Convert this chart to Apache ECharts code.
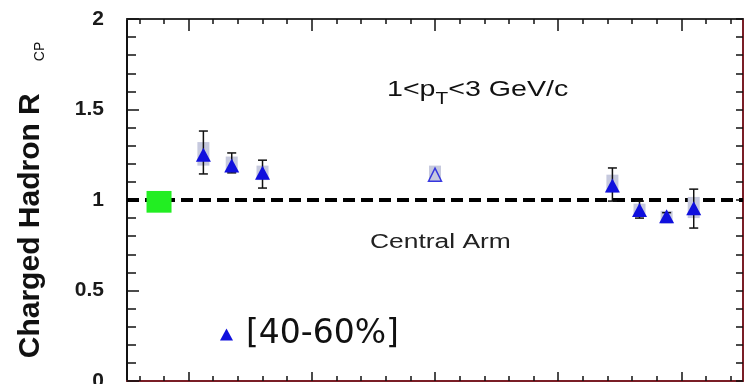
<!DOCTYPE html>
<html>
<head>
<meta charset="utf-8">
<script src="https://cdn.jsdelivr.net/npm/echarts@6/dist/echarts.min.js"></script>
<style>
  html, body { margin: 0; padding: 0; background: #fff; }
  #chart { width: 746px; height: 384px; }
</style>
</head>
<body>
<div id="chart"></div>
<script>
  // forward / backward points (filled triangles)
  var eta = [-1.88, -1.65, -1.40, 1.44, 1.66, 1.88, 2.10];
  var rcp = [1.25, 1.19, 1.15, 1.08, 0.945, 0.91, 0.955];
  var statLo = [1.144, 1.15, 1.066, 0.994, 0.90, 0.89, 0.845];
  var statHi = [1.381, 1.26, 1.22, 1.177, 0.994, 0.93, 1.06];
  var sysLo = [1.19, 1.155, 1.11, 1.04, 0.915, 0.87, 0.90];
  var sysHi = [1.32, 1.24, 1.19, 1.14, 0.98, 0.94, 1.017];

  // central arm point (open triangle)
  var centralEta = [0];
  var centralRcp = [1.14];
  var centralSysLo = [1.10];
  var centralSysHi = [1.19];

  // normalisation box
  var normEta = [-2.24];
  var normLo = [0.93];
  var normHi = [1.05];

  var refLine = [[-2.5, 1], [2.5, 1]];

  var yTicks = [0, 0.5, 1, 1.5, 2];
  var xMajorTicks = [-2, -1, 0, 1, 2];
  var xMinorTicks = [-2.4, -2.2, -1.8, -1.6, -1.4, -1.2, -0.8, -0.6, -0.4, -0.2,
    0.2, 0.4, 0.6, 0.8, 1.2, 1.4, 1.6, 1.8, 2.2, 2.4];

  var legendName = '[40-60%]';
  var blue = '#1010dd';

  var chart = echarts.init(document.getElementById('chart'));

  function zip3(a, b, c) {
    return a.map(function (v, i) { return [v, b[i], c[i]]; });
  }

  function boxRenderer(width, color) {
    return function (params, api) {
      var top = api.coord([api.value(0), api.value(2)]);
      var bot = api.coord([api.value(0), api.value(1)]);
      return {
        type: 'rect',
        shape: { x: top[0] - width / 2, y: top[1], width: width, height: bot[1] - top[1] },
        style: { fill: color }
      };
    };
  }

  function errRenderer(params, api) {
    var lo = api.coord([api.value(0), api.value(1)]);
    var hi = api.coord([api.value(0), api.value(2)]);
    var cap = 4.5;
    var st = { stroke: '#111', lineWidth: 1.5 };
    return {
      type: 'group',
      children: [
        { type: 'line', shape: { x1: lo[0], y1: lo[1], x2: hi[0], y2: hi[1] }, style: st },
        { type: 'line', shape: { x1: lo[0] - cap, y1: lo[1], x2: lo[0] + cap, y2: lo[1] }, style: st },
        { type: 'line', shape: { x1: hi[0] - cap, y1: hi[1], x2: hi[0] + cap, y2: hi[1] }, style: st }
      ]
    };
  }

  function xAxisDef(pos, ticks, len, lineColor, showLine) {
    return {
      type: 'value', position: pos, min: -2.5, max: 2.5,
      axisLine: { show: showLine, onZero: false, lineStyle: { color: lineColor, width: 2 } },
      axisTick: { show: true, inside: true, length: len, customValues: ticks,
        lineStyle: { color: '#111', width: 1.5 } },
      axisLabel: { show: false },
      splitLine: { show: false }
    };
  }

  var option = {
    backgroundColor: '#fff',
    animation: false,
    grid: { left: 127, right: 3, top: 19, bottom: 3, outerBoundsMode: 'none', containLabel: false },
    legend: {
      data: [legendName],
      icon: 'triangle',
      left: 215, top: 313,
      itemWidth: 13, itemHeight: 12,
      textStyle: { fontFamily: 'DejaVu Sans', fontSize: 33, color: '#111', padding: [0, 0, 0, 8] }
    },
    xAxis: [
      xAxisDef('bottom', xMajorTicks, 9, '#7a1e26', true),
      xAxisDef('bottom', xMinorTicks, 5, '#7a1e26', false),
      xAxisDef('top', xMajorTicks, 12, '#333', true),
      xAxisDef('top', xMinorTicks, 5, '#333', false)
    ],
    yAxis: [
      {
        type: 'value', position: 'left', min: yTicks[0], max: yTicks[yTicks.length - 1], interval: 0.5,
        name: '{b|Charged Hadron R}{s|CP}',
        nameLocation: 'middle', nameRotate: 90, nameGap: 80,
        nameTextStyle: {
          padding: [0, 0, 0, 0],
          rich: {
            b: { fontFamily: 'Liberation Sans', fontWeight: 'bold', fontSize: 30, color: '#111' },
            s: { fontFamily: 'Liberation Sans', fontSize: 14, color: '#111', padding: [18, 0, 0, 32] }
          }
        },
        axisLine: { onZero: false, lineStyle: { color: '#111', width: 2 } },
        axisTick: { inside: true, length: 12, lineStyle: { color: '#111', width: 1.5 } },
        minorTick: { show: true, splitNumber: 5, length: 9, lineStyle: { color: '#111', width: 1.5 } },
        axisLabel: {
          margin: 23, color: '#1a1a1a', fontFamily: 'Liberation Sans', fontWeight: 'bold', fontSize: 21,
          formatter: function (v) { return String(v); }
        },
        splitLine: { show: false }
      },
      {
        type: 'value', position: 'right', min: 0, max: 2, interval: 0.5,
        axisLine: { show: true, onZero: false, lineStyle: { color: '#7a1e26', width: 2 } },
        axisTick: { inside: true, length: 7, lineStyle: { color: '#111', width: 1.5 } },
        minorTick: { show: true, splitNumber: 5, length: 7, lineStyle: { color: '#111', width: 1.5 } },
        axisLabel: { show: false },
        splitLine: { show: false }
      }
    ],
    graphic: [
      {
        type: 'text', x: 387, y: 90, scaleX: 1.3,
        style: {
          text: '{n|1<p}{t|T}{n|<3 GeV/c}',
          verticalAlign: 'middle', align: 'left',
          rich: {
            n: { fontFamily: 'Liberation Sans', fontSize: 22, fill: '#111' },
            t: { fontFamily: 'Liberation Sans', fontSize: 16, fill: '#111', padding: [20, 0, 0, 0] }
          }
        }
      },
      {
        type: 'text', x: 370, y: 242, scaleX: 1.32,
        style: {
          text: 'Central Arm', fontFamily: 'Liberation Sans', fontSize: 20, fill: '#222',
          verticalAlign: 'middle', align: 'left'
        }
      }
    ],
    series: [
      {
        type: 'line', data: refLine, symbol: 'none', silent: true, z: 1,
        lineStyle: { color: '#000', width: 4, type: [12, 6] }
      },
      {
        type: 'custom', renderItem: boxRenderer(12, '#c6c9de'), z: 2,
        data: zip3(eta, sysLo, sysHi).concat(zip3(centralEta, centralSysLo, centralSysHi))
      },
      {
        type: 'custom', renderItem: boxRenderer(25, '#22ee22'), z: 2,
        data: zip3(normEta, normLo, normHi)
      },
      {
        type: 'custom', renderItem: errRenderer, z: 3,
        data: zip3(eta, statLo, statHi)
      },
      {
        name: legendName, type: 'scatter', symbol: 'triangle', symbolSize: [15, 14], z: 4,
        itemStyle: { color: blue, opacity: 1 },
        data: eta.map(function (x, i) { return [x, rcp[i]]; })
      },
      {
        type: 'scatter', symbol: 'triangle', symbolSize: [13, 13], z: 4,
        itemStyle: { color: 'rgba(0,0,0,0)', borderColor: blue, borderWidth: 1.5 },
        data: centralEta.map(function (x, i) { return [x, centralRcp[i]]; })
      }
    ]
  };

  chart.setOption(option);
</script>
</body>
</html>
